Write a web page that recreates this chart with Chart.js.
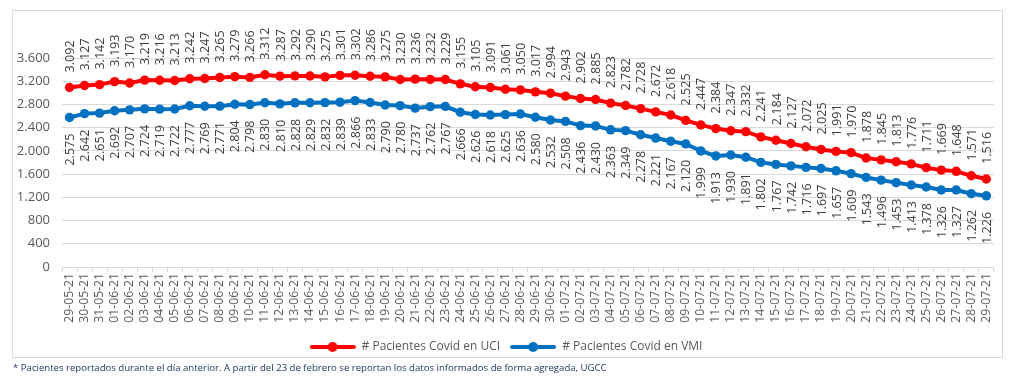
<!DOCTYPE html>
<html>
<head>
<meta charset="utf-8">
<script src="https://cdn.jsdelivr.net/npm/chart.js@4.4.1/dist/chart.umd.min.js"></script>
<style>
  html, body { margin: 0; padding: 0; background: #fff; width: 1011px; height: 380px; overflow: hidden; }
  #frame { position: absolute; left: 12px; top: 10px; width: 989px; height: 346px; border: 1px solid #d9d9d9; box-sizing: content-box; }
  #wrap { position: absolute; left: 12px; top: 10px; width: 990px; height: 353px; }
  #note { position: absolute; left: 13px; top: 361px; font-family: "Open Sans", sans-serif; font-size: 9.6px; color: #203864; white-space: nowrap; }
</style>
</head>
<body>
<div id="frame"></div>
<div id="wrap"><canvas id="c" width="990" height="353"></canvas></div>
<div id="note">* Pacientes reportados durante el día anterior. A partir del 23 de febrero se reportan los datos informados de forma agregada, UGCC</div>
<script>
const categories = [
  "29-05-21","30-05-21","31-05-21",
  "01-06-21","02-06-21","03-06-21","04-06-21","05-06-21","06-06-21","07-06-21","08-06-21","09-06-21","10-06-21",
  "11-06-21","12-06-21","13-06-21","14-06-21","15-06-21","16-06-21","17-06-21","18-06-21","19-06-21","20-06-21",
  "21-06-21","22-06-21","23-06-21","24-06-21","25-06-21","26-06-21","27-06-21","28-06-21","29-06-21","30-06-21",
  "01-07-21","02-07-21","03-07-21","04-07-21","05-07-21","06-07-21","07-07-21","08-07-21","09-07-21","10-07-21",
  "11-07-21","12-07-21","13-07-21","14-07-21","15-07-21","16-07-21","17-07-21","18-07-21","19-07-21","20-07-21",
  "21-07-21","22-07-21","23-07-21","24-07-21","25-07-21","26-07-21","27-07-21","28-07-21","29-07-21"
];
const uciValues = [
  3092,3127,3142,3193,3170,3219,3216,3213,3242,3247,
  3265,3279,3266,3312,3287,3292,3290,3275,3301,3302,
  3286,3275,3230,3236,3232,3229,3155,3105,3091,3061,
  3050,3017,2994,2943,2902,2885,2823,2782,2728,2672,
  2618,2525,2447,2384,2347,2332,2241,2184,2127,2072,
  2025,1991,1970,1878,1845,1813,1776,1711,1669,1648,
  1571,1516
];
const vmiValues = [
  2575,2642,2651,2692,2707,2724,2719,2722,2777,2769,
  2771,2804,2798,2830,2810,2828,2829,2832,2839,2866,
  2833,2790,2780,2737,2762,2767,2666,2626,2618,2625,
  2636,2580,2532,2508,2436,2430,2363,2349,2278,2221,
  2167,2120,1999,1913,1930,1891,1802,1767,1742,1716,
  1697,1657,1609,1543,1496,1453,1413,1378,1326,1327,
  1262,1226
];
const seriesNames = ["# Pacientes Covid en UCI", "# Pacientes Covid en VMI"];
const yTicks = [0,400,800,1200,1600,2000,2400,2800,3200,3600];

const RED = "#FF0000", BLUE = "#0070C0", TXT = "#595959", GRID = "#D9D9D9";
const FONT = "'Open Sans', sans-serif";

function fmt(v) {
  return String(Math.round(v)).replace(/\B(?=(\d{3})+(?!\d))/g, ".");
}

function legendIcon(color) {
  const c = document.createElement("canvas");
  c.width = 46; c.height = 12;
  const g = c.getContext("2d");
  g.strokeStyle = color; g.lineWidth = 4; g.lineCap = "round";
  g.beginPath(); g.moveTo(2, 6); g.lineTo(44, 6); g.stroke();
  g.fillStyle = color;
  g.beginPath(); g.arc(23, 6, 5, 0, Math.PI * 2); g.fill();
  return c;
}

const labelPlugin = {
  id: "vlabels",
  afterDatasetsDraw(chart) {
    const ctx = chart.ctx;
    ctx.save();
    ctx.font = "12.6px " + FONT;
    ctx.fillStyle = "#404040";
    ctx.textBaseline = "middle";
    chart.data.datasets.forEach((ds, di) => {
      const meta = chart.getDatasetMeta(di);
      meta.data.forEach((pt, i) => {
        const txt = fmt(ds.data[i]);
        ctx.save();
        if (di === 0) {
          ctx.translate(pt.x + 1, pt.y - 15);
          ctx.rotate(-Math.PI / 2);
          ctx.textAlign = "left";
        } else {
          ctx.translate(pt.x + 1, pt.y + 16);
          ctx.rotate(-Math.PI / 2);
          ctx.textAlign = "right";
        }
        ctx.fillText(txt, 0, 0);
        ctx.restore();
      });
    });
    ctx.restore();
  }
};

new Chart(document.getElementById("c"), {
  type: "line",
  data: {
    labels: categories,
    datasets: [
      { label: seriesNames[0], data: uciValues, borderColor: RED, backgroundColor: RED,
        borderWidth: 4, pointRadius: 4.7, pointBackgroundColor: RED, pointBorderColor: RED, pointBorderWidth: 0,
        pointStyle: "circle", tension: 0 },
      { label: seriesNames[1], data: vmiValues, borderColor: BLUE, backgroundColor: BLUE,
        borderWidth: 4, pointRadius: 4.7, pointBackgroundColor: BLUE, pointBorderColor: BLUE, pointBorderWidth: 0,
        pointStyle: "circle", tension: 0 }
    ]
  },
  options: {
    responsive: false,
    animation: false,
    layout: { padding: { top: 48, right: 2, left: 0, bottom: 0 } },
    plugins: {
      tooltip: { enabled: false },
      legend: {
        position: "bottom",
        labels: {
          usePointStyle: true,
          pointStyleWidth: 46,
          padding: 10,
          color: TXT,
          font: { family: FONT, size: 12 },
          generateLabels(chart) {
            return chart.data.datasets.map((ds, i) => ({
              text: ds.label, fillStyle: ds.borderColor, strokeStyle: ds.borderColor,
              lineWidth: 0, pointStyle: legendIcon(ds.borderColor), hidden: false, datasetIndex: i,
              fontColor: TXT
            }));
          }
        }
      }
    },
    scales: {
      x: {
        type: "category",
        offset: true,
        grid: { display: true, drawOnChartArea: false, drawTicks: true, tickLength: 5, offset: true, color: GRID },
        border: { display: true, color: GRID, width: 1 },
        ticks: { autoSkip: false, maxRotation: 90, minRotation: 90, padding: 1, color: TXT, font: { family: FONT, size: 12.2 } },
        afterFit(scale) { scale.height = 64; }
      },
      y: {
        min: 0, max: 3600,
        afterBuildTicks(scale) { scale.ticks = yTicks.map(v => ({ value: v })); },
        grid: { color: GRID, drawTicks: false, lineWidth: 1 },
        border: { display: false },
        ticks: { padding: 12, color: TXT, font: { family: FONT, size: 13 }, callback: v => fmt(v) },
        afterFit(scale) { scale.width = 50; }
      }
    }
  },
  plugins: [labelPlugin]
});
</script>
</body>
</html>
